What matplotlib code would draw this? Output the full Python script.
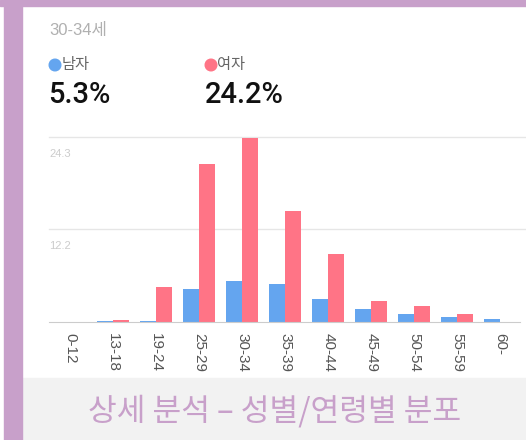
import matplotlib
matplotlib.use("Agg")
from matplotlib import pyplot as plt
from matplotlib.patches import Rectangle, Circle
import numpy as np

plt.rcParams['font.family'] = ['Noto Sans CJK KR', 'DejaVu Sans']
LATIN = ['Liberation Sans', 'Noto Sans CJK KR']

ages = ['0-12', '13-18', '19-24', '25-29', '30-34', '35-39', '40-44', '45-49', '50-54', '55-59', '60-']
male = [0.0, 0.1, 0.1, 4.3, 5.3, 5.0, 3.0, 1.7, 1.0, 0.55, 0.3]
female = [0.0, 0.15, 4.5, 20.7, 24.2, 14.5, 8.9, 2.7, 2.1, 1.05, 0.0]
y_ticks = [12.2, 24.3]

selected = '30-34세'
male_share = '5.3%'
female_share = '24.2%'
footer = '상세 분석 – 성별/연령별 분포'

W, H = 526, 440
BLUE = '#64a5ef'
PINK = '#ff7486'
PURPLE = '#c8a0ca'


def fx(px):
    return px / W


def fy(py):
    return 1 - py / H


fig = plt.figure(figsize=(W / 100, H / 100), dpi=100)

# frame decoration
fig.patches.append(Rectangle((fx(22), 0), fx(W - 22), fy(378), transform=fig.transFigure,
                             color='#f2f2f2', zorder=0))
fig.patches.append(Rectangle((0, fy(6)), 1, 6 / H, transform=fig.transFigure,
                             color=PURPLE, zorder=1))
fig.patches.append(Rectangle((fx(4), 0), fx(18), 1, transform=fig.transFigure,
                             color=PURPLE, zorder=1))

# header
fig.text(fx(49), fy(31), selected, fontsize=12, color='#b0b0b0', va='center', ha='left',
         fontfamily=LATIN)
fig.patches.append(Circle((0.55, (H - 65) / 100), 0.058, transform=fig.dpi_scale_trans, color=BLUE))
fig.patches.append(Circle((2.11, (H - 65) / 100), 0.058, transform=fig.dpi_scale_trans, color=PINK))
fig.text(fx(61.5), fy(65), '남자', fontsize=11, color='#666666', va='center', ha='left')
fig.text(fx(217.5), fy(65), '여자', fontsize=11, color='#666666', va='center', ha='left')
fig.text(fx(48), fy(95), male_share, fontsize=21, color='#111111', va='center', ha='left',
         fontfamily=['Roboto'], fontweight='medium')
fig.text(fx(205), fy(95), female_share, fontsize=21, color='#111111', va='center', ha='left',
         fontfamily=['Roboto'], fontweight='medium')

# chart
ax = fig.add_axes([fx(49), fy(321.5), fx(526 - 49), (321.5 - 137) / H])
x = np.arange(len(ages))
bw = 0.375
ax.bar(x - bw / 2, male, width=bw, color=BLUE, zorder=2)
ax.bar(x + bw / 2, female, width=bw, color=PINK, zorder=2)
ax.set_xlim(-0.49, 10.6)
ax.set_ylim(0, y_ticks[-1])
for t in y_ticks:
    ax.axhline(t, color='#e6e6e6', linewidth=1, zorder=1, clip_on=False)
    ax.text(-0.49, t - 2.3, f'{t}', fontsize=8, color='#cccccc', va='center', ha='left',
            fontfamily=LATIN)
for s in ['top', 'right', 'left']:
    ax.spines[s].set_visible(False)
ax.spines['bottom'].set_color('#cccccc')
ax.spines['bottom'].set_bounds(-0.49, 10.47)
ax.set_yticks([])
ax.set_xticks(x)
ax.set_xticklabels(ages, rotation=270, fontsize=11, color='#555555', fontfamily=LATIN)
ax.tick_params(axis='x', length=0, pad=8)
ax.patch.set_alpha(0)

# footer
fig.text(fx(275), fy(411), footer, fontsize=22.5, color=PURPLE, va='center', ha='center',
         fontweight='medium')

fig.savefig('out.png', dpi=100)
